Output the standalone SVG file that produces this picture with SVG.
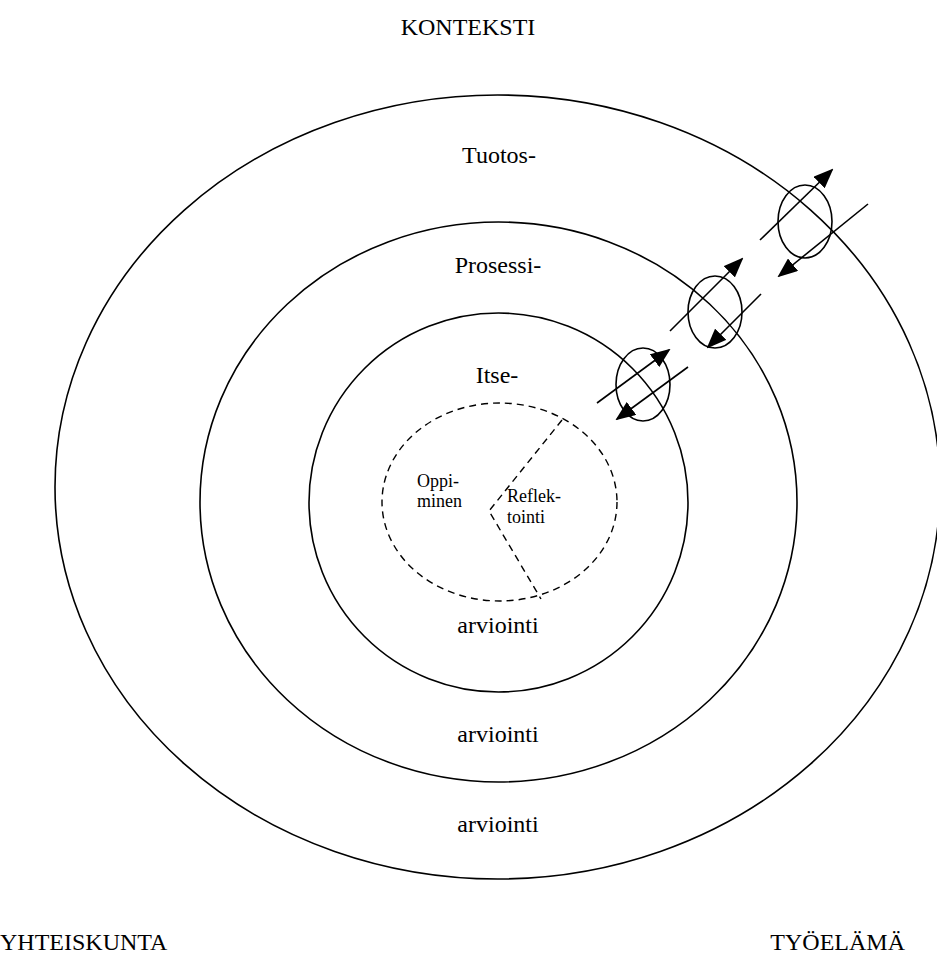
<svg xmlns="http://www.w3.org/2000/svg" width="937" height="972" viewBox="0 0 937 972">
<style>
.ring{fill:none;stroke:#000;stroke-width:1.6}
.dash{fill:none;stroke:#000;stroke-width:1.4;stroke-dasharray:7 5}
.lbl{font-family:"Liberation Serif","Times New Roman",serif;font-size:24px;fill:#000}
.sm{font-family:"Liberation Serif","Times New Roman",serif;font-size:18px;fill:#000}
.arr{fill:none;stroke:#000;stroke-width:1.6}
</style>
<defs>
<marker id="ah" markerUnits="userSpaceOnUse" markerWidth="20" markerHeight="16" refX="18" refY="8" orient="auto">
<path d="M0,0 L20,8 L0,16 Z" fill="#000"/>
</marker>
</defs>
<rect width="937" height="972" fill="#fff"/>
<g id="outer"><ellipse class="ring" cx="497.5" cy="487" rx="442.5" ry="392"/></g>
<g id="middle"><ellipse class="ring" cx="498.5" cy="502" rx="298.5" ry="280"/></g>
<g id="inner"><ellipse class="ring" cx="498.5" cy="502.5" rx="189.5" ry="189.5"/></g>
<g id="core">
<ellipse class="dash" cx="499.5" cy="502" rx="117.5" ry="99"/>
<path class="dash" d="M562,420 L489,511 L541,599"/>
</g>
<g id="portA"><ellipse class="ring" cx="805" cy="221.5" rx="27" ry="36.5"/></g>
<g id="portB"><ellipse class="ring" cx="715" cy="312" rx="27" ry="36"/></g>
<g id="portC"><ellipse class="ring" cx="643" cy="384.5" rx="27" ry="36.5"/></g>
<g id="connectors">
<line class="arr" x1="760" y1="240" x2="832" y2="170" marker-end="url(#ah)"/>
<line class="arr" x1="868" y1="204" x2="779" y2="276" marker-end="url(#ah)"/>
<line class="arr" x1="670" y1="331" x2="742" y2="259" marker-end="url(#ah)"/>
<line class="arr" x1="761" y1="294" x2="708" y2="347" marker-end="url(#ah)"/>
<line class="arr" x1="597" y1="403" x2="669" y2="350" marker-end="url(#ah)"/>
<line class="arr" x1="688" y1="367" x2="617" y2="419" marker-end="url(#ah)"/>
</g>
<g id="labels">
<text class="lbl" x="468" y="35" text-anchor="middle">KONTEKSTI</text>
<text class="lbl" x="499" y="163" text-anchor="middle">Tuotos-</text>
<text class="lbl" x="498" y="273" text-anchor="middle">Prosessi-</text>
<text class="lbl" x="497" y="383" text-anchor="middle">Itse-</text>
<text class="sm" x="417" y="487">Oppi-</text>
<text class="sm" x="417" y="507">minen</text>
<text class="sm" x="507" y="502">Reflek-</text>
<text class="sm" x="507" y="523">tointi</text>
<text class="lbl" x="498" y="633" text-anchor="middle">arviointi</text>
<text class="lbl" x="498" y="742" text-anchor="middle">arviointi</text>
<text class="lbl" x="498" y="832" text-anchor="middle">arviointi</text>
<text class="lbl" x="0" y="950">YHTEISKUNTA</text>
<text class="lbl" x="905" y="950" text-anchor="end">TYÖELÄMÄ</text>
</g>
</svg>
